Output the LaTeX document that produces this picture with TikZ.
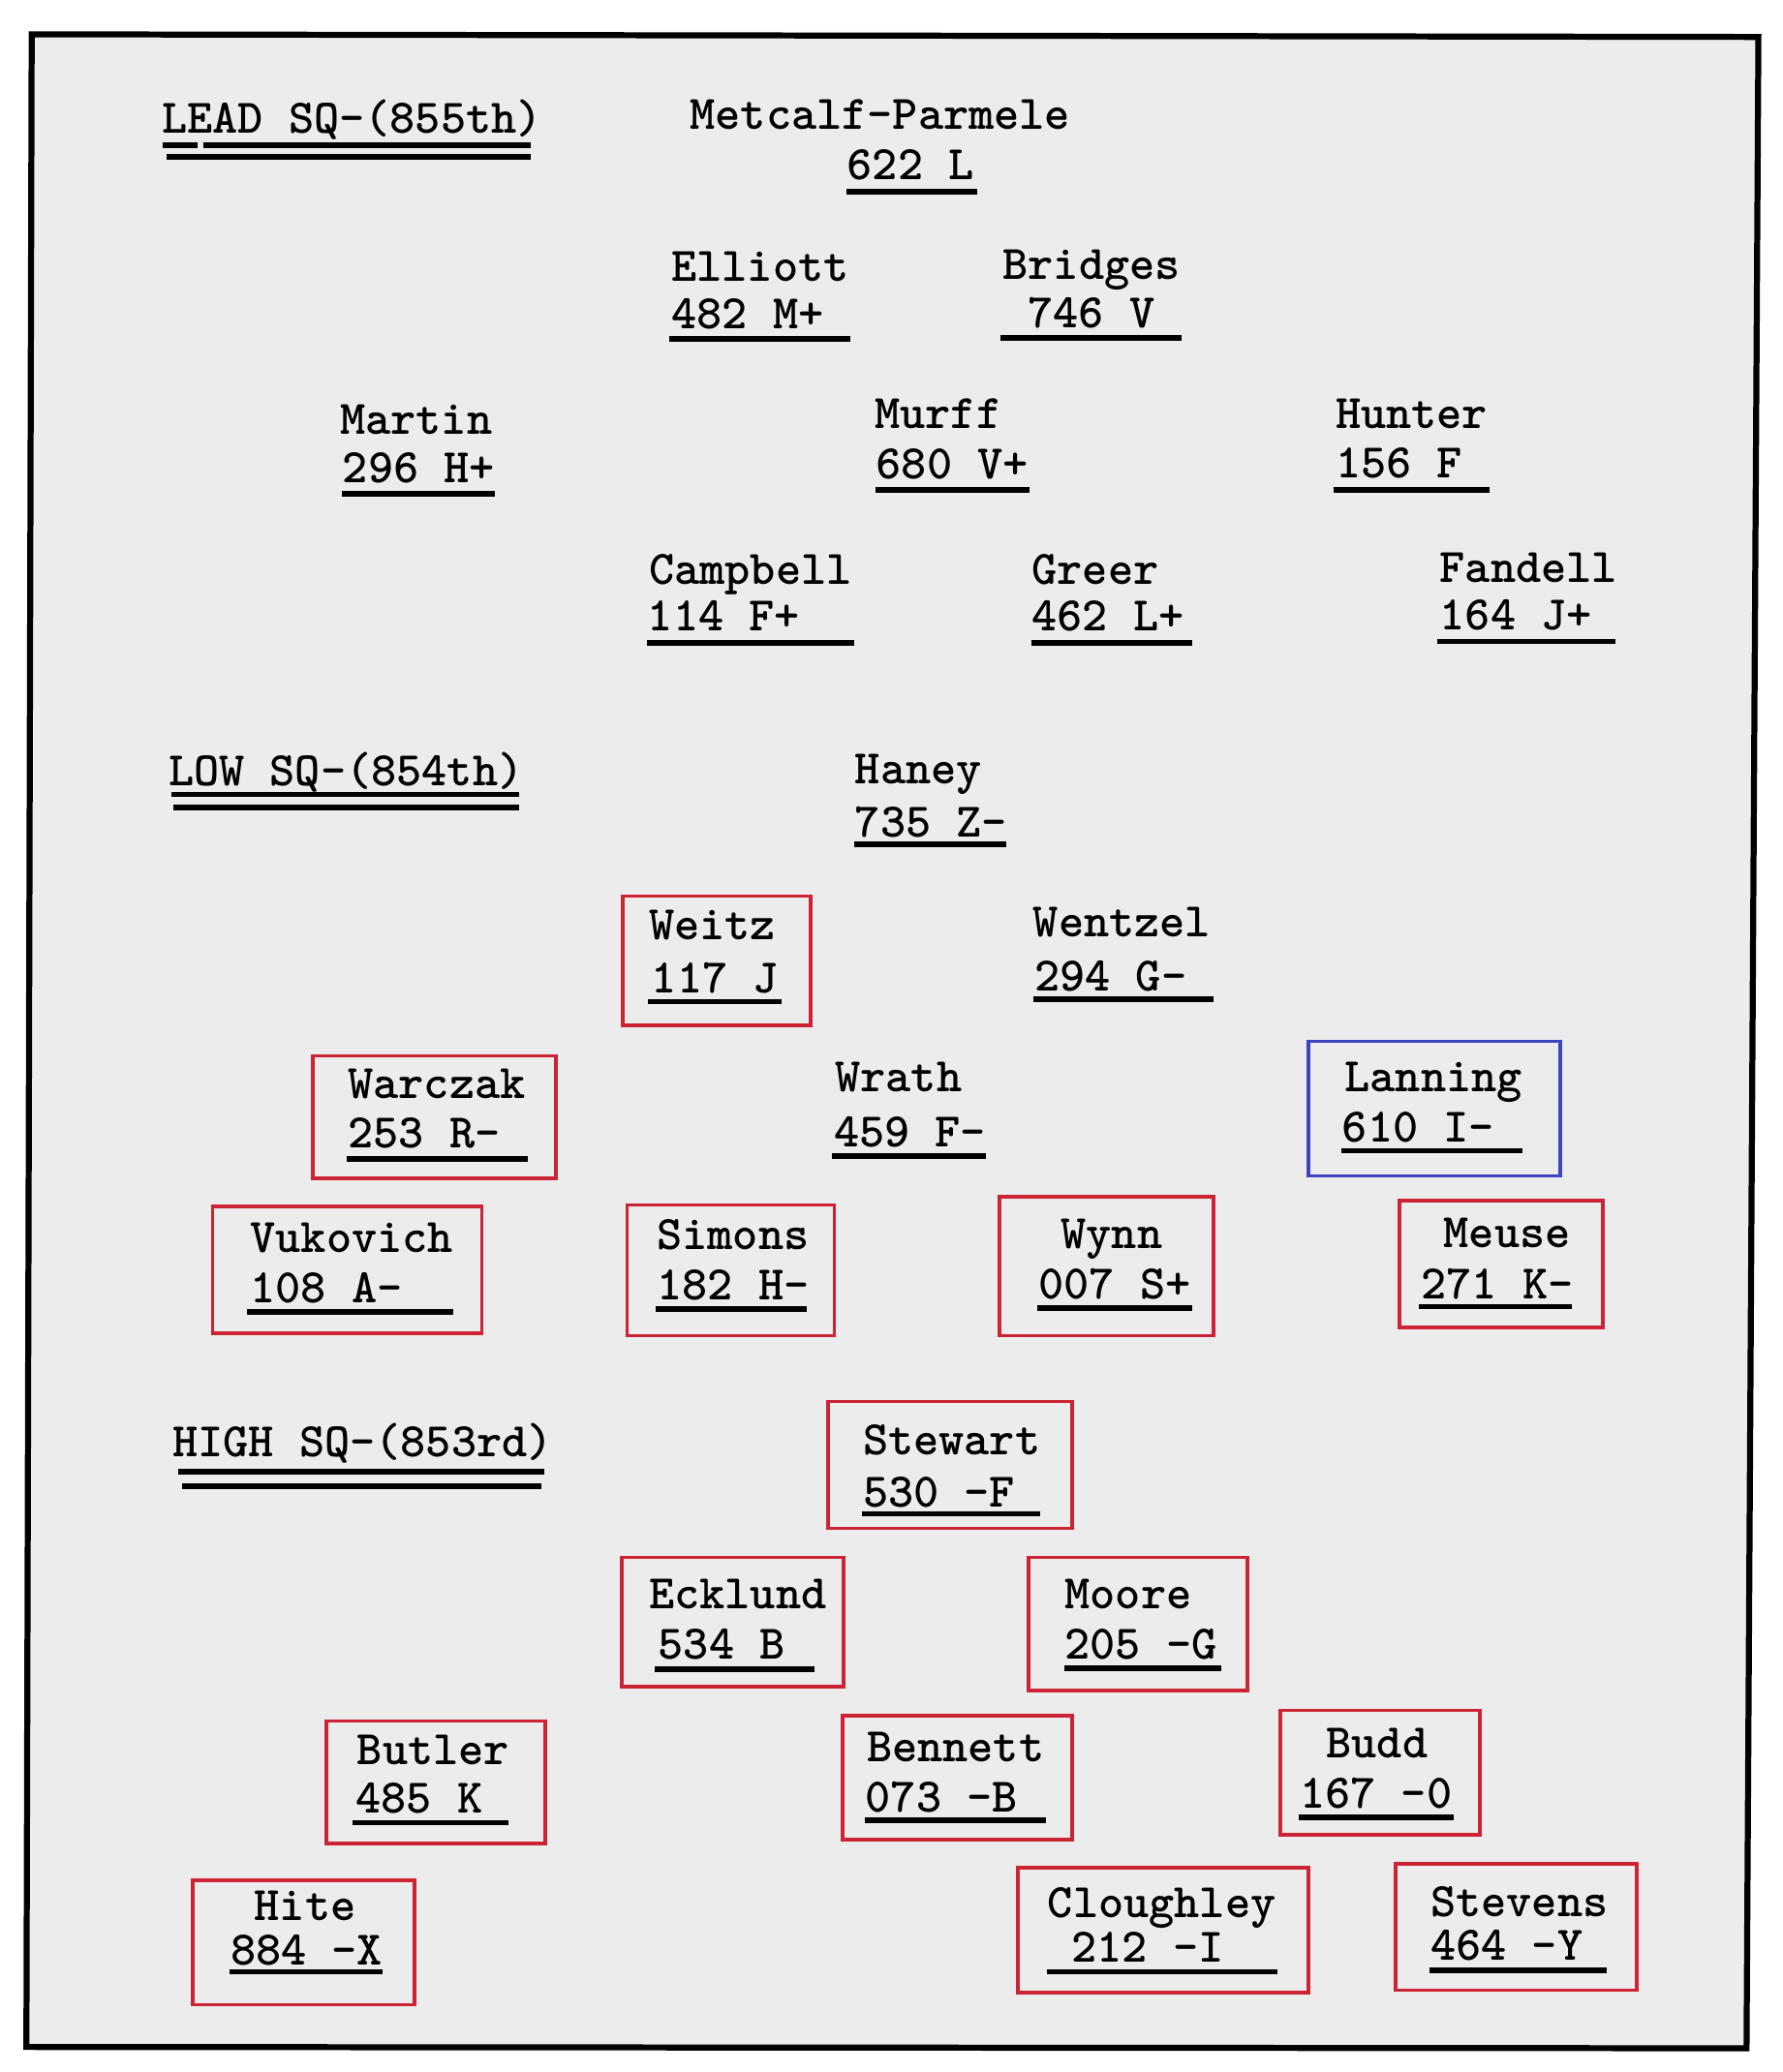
\documentclass[tikz,border=0pt]{standalone}
\usepackage{tikz}
\usepackage{xcolor}
\usetikzlibrary{positioning}

\definecolor{paper}{RGB}{236,236,236}
\definecolor{boxred}{RGB}{204,36,52}
\definecolor{boxblue}{RGB}{60,68,192}

\begin{document}
\begin{tikzpicture}[x=0.01cm, y=-0.01cm,
    crew/.style={anchor=base west, inner sep=0pt, font=\fontsize{10.4}{12}\selectfont\ttfamily\bfseries},
    uline/.style={line width=1.2pt},
    redbox/.style={draw=boxred, line width=0.8pt},
    bluebox/.style={draw=boxblue, line width=0.8pt}]
                        \useasboundingbox (0, 0) rectangle (1350, 1570);
                        \draw[fill=paper, line width=1.3pt]
                        (24, 26) -- (1332, 28) -- (1323, 1552) -- (20, 1551) -- cycle;
                        % lead squadron
                        \node[crew] (lead) at (122, 101) {LEAD SQ-(855th)};
                        \node[crew] (metcalf) at (522, 98) {Metcalf-Parmele};
                        \node[crew] (metcalfNo) at (641, 136) {622 L};
                        \node[crew] (elliott) at (508, 213) {Elliott};
                        \node[crew] (elliottNo) at (508, 249) {482 M+};
                        \node[crew] (bridges) at (759, 212) {Bridges};
                        \node[crew] (bridgesNo) at (778, 248) {746 V};
                        \node[crew] (martin) at (257, 329) {Martin};
                        \node[crew] (martinNo) at (259, 366) {296 H+};
                        \node[crew] (murff) at (662, 325) {Murff};
                        \node[crew] (murffNo) at (663, 363) {680 V+};
                        \node[crew] (hunter) at (1011, 325) {Hunter};
                        \node[crew] (hunterNo) at (1011, 362) {156 F};
                        \node[crew] (campbell) at (491, 443) {Campbell};
                        \node[crew] (campbellNo) at (490, 478) {114 F+};
                        \node[crew] (greer) at (781, 443) {Greer};
                        \node[crew] (greerNo) at (781, 478) {462 L+};
                        \node[crew] (fandell) at (1090, 441) {Fandell};
                        \node[crew] (fandellNo) at (1090, 477) {164 J+};
                        % low squadron
                        \node[crew] (low) at (127, 595) {LOW SQ-(854th)};
                        \node[crew] (haney) at (647, 594) {Haney};
                        \node[crew] (haneyNo) at (647, 634) {735 Z-};
                        \node[crew] (weitz) at (491, 712) {Weitz};
                        \node[crew] (weitzNo) at (493, 752) {117 J};
                        \node[crew] (wentzel) at (782, 710) {Wentzel};
                        \node[crew] (wentzelNo) at (783, 751) {294 G-};
                        \node[crew] (warczak) at (263, 832) {Warczak};
                        \node[crew] (warczakNo) at (263, 870) {253 R-};
                        \node[crew] (wrath) at (632, 827) {Wrath};
                        \node[crew] (wrathNo) at (631, 869) {459 F-};
                        \node[crew] (lanning) at (1018, 827) {Lanning};
                        \node[crew] (lanningNo) at (1016, 865) {610 I-};
                        \node[crew] (vukovich) at (189, 949) {Vukovich};
                        \node[crew] (vukovichNo) at (189, 987) {108 A-};
                        \node[crew] (simons) at (497, 947) {Simons};
                        \node[crew] (simonsNo) at (497, 985) {182 H-};
                        \node[crew] (wynn) at (803, 946) {Wynn};
                        \node[crew] (wynnNo) at (786, 984) {007 S+};
                        \node[crew] (meuse) at (1093, 945) {Meuse};
                        \node[crew] (meuseNo) at (1076, 984) {271 K-};
                        % high squadron
                        \node[crew] (high) at (130, 1104) {HIGH SQ-(853rd)};
                        \node[crew] (stewart) at (653, 1102) {Stewart};
                        \node[crew] (stewartNo) at (653, 1142) {530 -F};
                        \node[crew] (ecklund) at (491, 1219) {Ecklund};
                        \node[crew] (ecklundNo) at (498, 1257) {534 B};
                        \node[crew] (moore) at (806, 1219) {Moore};
                        \node[crew] (mooreNo) at (806, 1257) {205 -G};
                        \node[crew] (butler) at (270, 1337) {Butler};
                        \node[crew] (butlerNo) at (269, 1374) {485 K};
                        \node[crew] (bennett) at (656, 1335) {Bennett};
                        \node[crew] (bennettNo) at (655, 1373) {073 -B};
                        \node[crew] (budd) at (1004, 1332) {Budd};
                        \node[crew] (buddNo) at (984, 1370) {167 -0};
                        \node[crew] (hite) at (192, 1455) {Hite};
                        \node[crew] (hiteNo) at (174, 1489) {884 -X};
                        \node[crew] (cloughley) at (793, 1453) {Cloughley};
                        \node[crew] (cloughleyNo) at (811, 1487) {212 -I};
                        \node[crew] (stevens) at (1083, 1452) {Stevens};
                        \node[crew] (stevensNo) at (1083, 1485) {464 -Y};
                        % underlines
                        \draw[uline]
                        (123, 110) -- (150, 110) (154, 110) -- (402, 110) (126, 119) -- (402, 119)
                        (130, 602) -- (393, 602) (131, 612) -- (393, 612)
                        (135, 1115) -- (412, 1115) (138, 1126) -- (410, 1126)
                        (641, 145) -- (740, 145)
                        (507, 257) -- (644, 257) (758, 256) -- (895, 256)
                        (259, 374) -- (375, 374) (663, 371) -- (780, 371) (1010, 371) -- (1128, 371)
                        (490, 487) -- (647, 487) (781, 487) -- (903, 487) (1089, 486) -- (1224, 486)
                        (647, 640) -- (762, 640)
                        (491, 759) -- (592, 759) (783, 757) -- (919, 757)
                        (263, 878) -- (400, 878) (630, 876) -- (747, 876) (1016, 872) -- (1153, 872)
                        (187, 994) -- (343, 994) (497, 992) -- (611, 992) (786, 991) -- (903, 991) (1075, 990) -- (1191, 990)
                        (653, 1147) -- (788, 1147)
                        (496, 1265) -- (617, 1265) (806, 1264) -- (925, 1264)
                        (267, 1381) -- (385, 1381) (655, 1379) -- (792, 1379) (984, 1377) -- (1101, 1377)
                        (174, 1494) -- (290, 1494) (793, 1494) -- (968, 1494) (1083, 1493) -- (1217, 1493);
                        % boxes
                        \draw[bluebox] (991, 789) rectangle (1182, 891);
                        \draw[redbox]
                        (472, 679) rectangle (614, 777)
                        (237, 800) rectangle (421, 893)
                        (161, 914) rectangle (365, 1010)
                        (475, 913) rectangle (632, 1012)
                        (757, 907) rectangle (919, 1012)
                        (1060, 910) rectangle (1214, 1006)
                        (627, 1062) rectangle (812, 1158)
                        (471, 1180) rectangle (639, 1278)
                        (779, 1180) rectangle (945, 1281)
                        (247, 1304) rectangle (413, 1397)
                        (638, 1300) rectangle (812, 1394)
                        (970, 1296) rectangle (1121, 1390)
                        (146, 1425) rectangle (314, 1519)
                        (771, 1415) rectangle (991, 1510)
                        (1057, 1412) rectangle (1240, 1508);
                    \end{tikzpicture}
\end{document}
